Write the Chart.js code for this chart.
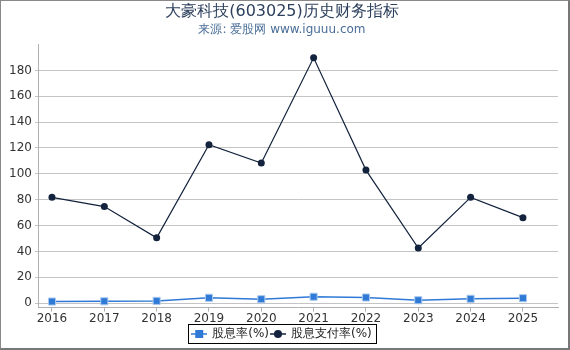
<!DOCTYPE html>
<html>
<head>
<meta charset="utf-8">
<script src="https://cdn.jsdelivr.net/npm/chart.js@4"></script>
<style>
  body { margin: 0; background: #fff; }
  #wrap { position: relative; width: 570px; height: 350px; }
  #frame { position: absolute; left: 0; top: 0; width: 567px; height: 347px;
           border-left: 1px solid #888; border-top: 1px solid #888;
           border-right: 2px solid #777; border-bottom: 2px solid #777;
           pointer-events: none; }
</style>
</head>
<body>
<div id="wrap">
  <canvas id="chart" width="570" height="350"></canvas>
  <div id="frame"></div>
</div>
<script>
// 数据
const years = [2016, 2017, 2018, 2019, 2020, 2021, 2022, 2023, 2024, 2025];
const dividendYield = [1.2, 1.4, 1.7, 4.1, 3.0, 4.9, 4.3, 2.2, 3.3, 3.8];
const payoutRatio = [81.8, 74.7, 50.5, 122.5, 108.4, 189.8, 102.9, 42.6, 81.8, 66.1];
const yTicks = [0, 20, 40, 60, 80, 100, 120, 140, 160, 180];

const blue = '#2f7ad6';
const navy = '#13233d';

// 图例图标: 线 + 标记
function legendIcon(color, shape) {
    const c = document.createElement('canvas');
    c.width = 16; c.height = 10;
    const g = c.getContext('2d');
    g.strokeStyle = color; g.lineWidth = 1.5;
    g.beginPath(); g.moveTo(0, 5); g.lineTo(16, 5); g.stroke();
    g.fillStyle = color;
    if (shape === 'rect') {
        g.fillRect(4, 1, 8, 8);
    } else {
        g.beginPath(); g.arc(8, 5, 4, 0, Math.PI * 2); g.fill();
    }
    return c;
}

const legendBox = {
    id: 'legendBox',
    afterDraw(chart) {
        const items = chart.legend.legendHitBoxes;
        if (!items || !items.length) return;
        let l = Infinity, r = -Infinity, t = Infinity, b = -Infinity;
        items.forEach(h => {
            l = Math.min(l, h.left); r = Math.max(r, h.left + h.width);
            t = Math.min(t, h.top); b = Math.max(b, h.top + h.height);
        });
        const ctx = chart.ctx;
        ctx.save();
        ctx.strokeStyle = '#000';
        ctx.lineWidth = 1;
        ctx.strokeRect(Math.round(l - 4) + 0.5, Math.round(t - 4) + 0.5, Math.round(r - l + 8), Math.round(b - t + 7));
        ctx.restore();
    }
};

const ctx = document.getElementById('chart').getContext('2d');
new Chart(ctx, {
    type: 'line',
    data: {
        datasets: [{
            label: '股息率(%)',
            data: years.map((y, i) => ({ x: y, y: dividendYield[i] })),
            borderColor: blue,
            backgroundColor: blue,
            borderWidth: 1.5,
            pointStyle: 'rect',
            pointRadius: 5,
            pointBorderColor: '#a9c8ee',
            pointBorderWidth: 1,
            tension: 0
        }, {
            label: '股息支付率(%)',
            data: years.map((y, i) => ({ x: y, y: payoutRatio[i] })),
            borderColor: navy,
            backgroundColor: navy,
            borderWidth: 1.2,
            pointStyle: 'circle',
            pointRadius: 3.5,
            pointBorderWidth: 0,
            tension: 0
        }]
    },
    options: {
        responsive: false,
        animation: false,
        devicePixelRatio: 1,
        layout: { padding: { left: 6, right: 12, top: 0, bottom: 0 } },
        font: { family: 'DejaVu Sans' },
        plugins: {
            title: {
                display: true,
                text: '大豪科技(603025)历史财务指标',
                color: '#2c3f5c',
                font: { family: 'DejaVu Sans', size: 16, weight: 'normal' },
                padding: { top: 2, bottom: 1 }
            },
            subtitle: {
                display: true,
                text: '来源: 爱股网 www.iguuu.com',
                color: '#4a6e98',
                font: { family: 'DejaVu Sans', size: 12 },
                padding: { top: 0, bottom: 8 }
            },
            legend: {
                position: 'bottom',
                labels: {
                    color: '#222',
                    font: { family: 'DejaVu Sans', size: 12 },
                    usePointStyle: true,
                    pointStyleWidth: 14,
                    padding: 2,
                    generateLabels(chart) {
                        return chart.data.datasets.map((ds, i) => ({
                            text: ds.label,
                            pointStyle: legendIcon(ds.borderColor, ds.pointStyle),
                            fontColor: '#222',
                            datasetIndex: i,
                            hidden: false,
                            lineWidth: 0
                        }));
                    }
                }
            },
            tooltip: { enabled: false }
        },
        scales: {
            x: {
                type: 'linear',
                min: 2015.75,
                max: 2025.67,
                afterBuildTicks(axis) { axis.ticks = years.map(v => ({ value: v })); },
                ticks: {
                    color: '#333',
                    font: { family: 'DejaVu Sans', size: 12 },
                    padding: 0,
                    callback: v => String(v)
                },
                grid: { drawOnChartArea: false, drawTicks: true, tickLength: 4, color: '#b0b0b0' },
                border: { display: true, color: '#b0b0b0', width: 1 }
            },
            y: {
                min: -3.5,
                max: 200,
                afterBuildTicks(axis) { axis.ticks = yTicks.map(v => ({ value: v })); },
                ticks: {
                    color: '#333',
                    font: { family: 'DejaVu Sans', size: 12 },
                    padding: 3
                },
                grid: { color: '#c4c4c4', tickLength: 4 },
                border: { display: true, color: '#b0b0b0', width: 1 }
            }
        }
    },
    plugins: [legendBox]
});
</script>
</body>
</html>
